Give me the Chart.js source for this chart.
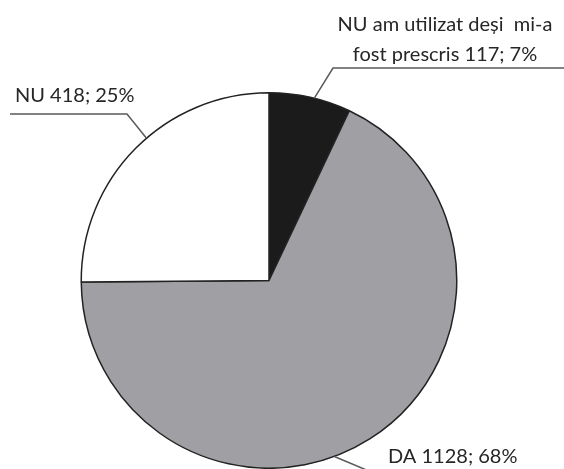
<!DOCTYPE html>
<html>
<head>
<meta charset="utf-8">
<script src="https://cdn.jsdelivr.net/npm/chart.js@4.4.1/dist/chart.umd.min.js"></script>
<style>
  html, body { margin: 0; padding: 0; background: #fff; }
  #wrap { width: 564px; height: 469px; }
</style>
</head>
<body>
<div id="wrap"><canvas id="pie"></canvas></div>
<script>
// ================= data =================
var categories = ['NU am utilizat deși  mi-a fost prescris', 'DA', 'NU'];
var counts = [117, 1128, 418];
var percents = ['7%', '68%', '25%'];
var sliceColors = ['#1b1b1b', '#a0a0a4', '#ffffff'];

// label text lines, built from the data
var labelLines = [
  ['NU am utilizat deși  mi-a', 'fost prescris ' + counts[0] + '; ' + percents[0]],
  [categories[1] + ' ' + counts[1] + '; ' + percents[1]],
  [categories[2] + ' ' + counts[2] + '; ' + percents[2]]
];

// where each label sits, and the leader line bend
var labelLayout = [
  { x: 445, y: [25, 55], align: 'center', bend: [333, 68], end: [570, 68] },
  { x: 388, y: [457], align: 'left', bend: [376, 474], end: null },
  { x: 15, y: [96], align: 'left', bend: [127, 114], end: [10, 114] }
];

// ================= leader lines + labels =================
var calloutPlugin = {
  id: 'callouts',
  afterDraw: function(chart) {
    var ctx = chart.ctx;
    var arcs = chart.getDatasetMeta(0).data;
    ctx.save();
    arcs.forEach(function(arc, i) {
      var p = arc.getProps(['x', 'y', 'startAngle', 'endAngle', 'outerRadius'], true);
      var ang = p.startAngle + (p.endAngle - p.startAngle) * 0.55;
      var ax = p.x + Math.cos(ang) * p.outerRadius;
      var ay = p.y + Math.sin(ang) * p.outerRadius;
      var lay = labelLayout[i];
      ctx.strokeStyle = '#5a5a5a';
      ctx.lineWidth = 1.5;
      ctx.beginPath();
      ctx.moveTo(ax, ay);
      ctx.lineTo(lay.bend[0], lay.bend[1]);
      if (lay.end) ctx.lineTo(lay.end[0], lay.end[1]);
      ctx.stroke();

      ctx.fillStyle = '#262626';
      ctx.font = '20px Lato, "Open Sans", sans-serif';
      ctx.textAlign = lay.align;
      ctx.textBaseline = 'middle';
      labelLines[i].forEach(function(line, j) {
        ctx.fillText(line, lay.x, lay.y[j]);
      });
    });
    ctx.restore();
  }
};

var chart = new Chart(document.getElementById('pie'), {
  type: 'pie',
  data: {
    labels: categories,
    datasets: [{
      data: counts,
      backgroundColor: sliceColors,
      borderColor: '#222222',
      borderWidth: 1.5
    }]
  },
  options: {
    responsive: true,
    maintainAspectRatio: false,
    animation: false,
    layout: { padding: { top: 92, bottom: 0, left: 80, right: 106 } },
    plugins: {
      legend: { display: false },
      tooltip: { enabled: false }
    }
  },
  plugins: [calloutPlugin]
});
</script>
</body>
</html>
